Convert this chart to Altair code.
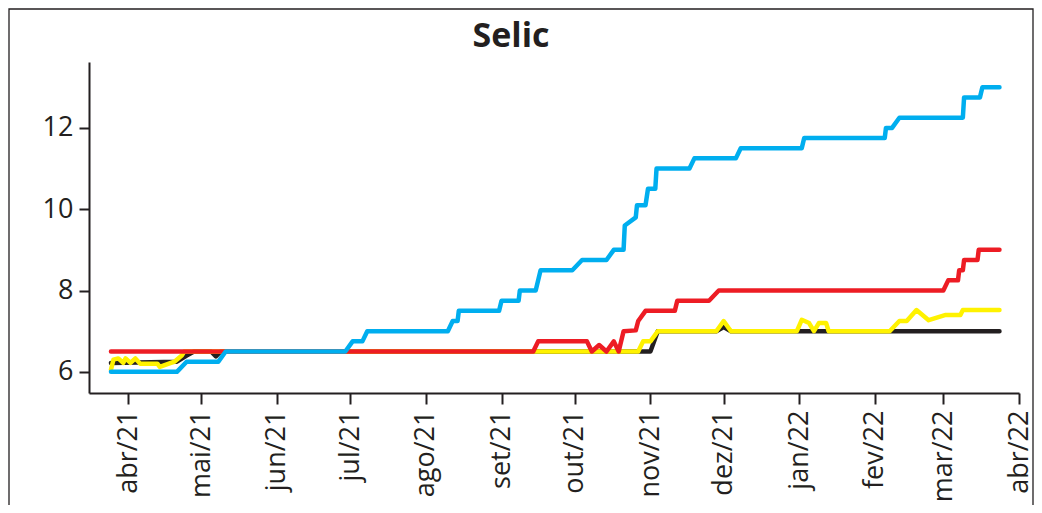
import json
import altair as alt
import pandas as pd

# ---------------- data ----------------
month_labels = ["abr/21", "mai/21", "jun/21", "jul/21", "ago/21", "set/21", "out/21",
                "nov/21", "dez/21", "jan/22", "fev/22", "mar/22", "abr/22"]
y_ticks = [6, 8, 10, 12]

blue_dates = ["2021-03-25", "2021-04-21", "2021-04-25", "2021-05-08", "2021-05-11", "2021-06-29",
              "2021-07-02", "2021-07-06", "2021-07-08", "2021-08-10", "2021-08-12", "2021-08-14",
              "2021-08-14T12:00", "2021-08-31", "2021-09-01", "2021-09-08", "2021-09-08T12:00",
              "2021-09-15", "2021-09-17", "2021-09-30", "2021-10-04", "2021-10-14", "2021-10-17",
              "2021-10-21", "2021-10-21T12:00", "2021-10-26", "2021-10-26T12:00", "2021-10-30",
              "2021-10-31", "2021-11-03", "2021-11-03T12:00", "2021-11-17", "2021-11-19",
              "2021-12-06", "2021-12-08", "2022-01-02", "2022-01-03", "2022-02-05",
              "2022-02-05T12:00", "2022-02-08", "2022-02-11", "2022-03-09", "2022-03-09T12:00",
              "2022-03-16", "2022-03-17", "2022-03-24"]
blue_vals = [6.0, 6.0, 6.25, 6.25, 6.5, 6.5,
             6.75, 6.75, 7.0, 7.0, 7.25, 7.25,
             7.5, 7.5, 7.75, 7.75, 8.0,
             8.0, 8.5, 8.5, 8.75, 8.75, 9.0,
             9.0, 9.6, 9.8, 10.1, 10.1,
             10.5, 10.5, 11.0, 11.0, 11.25,
             11.25, 11.5, 11.5, 11.75, 11.75,
             12.0, 12.0, 12.25, 12.25, 12.75,
             12.75, 13.0, 13.0]

red_dates = ["2021-03-25", "2021-09-14", "2021-09-16", "2021-10-06", "2021-10-08", "2021-10-11",
             "2021-10-14", "2021-10-17", "2021-10-19", "2021-10-21", "2021-10-26", "2021-10-27",
             "2021-10-30", "2021-11-11", "2021-11-12", "2021-11-25", "2021-11-29", "2022-03-01",
             "2022-03-03", "2022-03-07", "2022-03-07T12:00", "2022-03-09", "2022-03-09T12:00",
             "2022-03-15", "2022-03-15T12:00", "2022-03-24"]
red_vals = [6.5, 6.5, 6.75, 6.75, 6.5, 6.66,
            6.5, 6.75, 6.5, 7.0, 7.02, 7.25,
            7.5, 7.5, 7.75, 7.75, 8.0, 8.0,
            8.25, 8.25, 8.5, 8.5, 8.75,
            8.75, 9.0, 9.0]

yellow_dates = ["2021-03-25", "2021-03-26", "2021-03-28", "2021-03-30", "2021-03-31", "2021-04-02",
                "2021-04-04", "2021-04-06", "2021-04-13", "2021-04-14", "2021-04-20", "2021-04-23",
                "2021-04-24", "2021-10-27", "2021-10-29", "2021-11-01", "2021-11-04", "2021-11-28",
                "2021-12-01", "2021-12-04", "2021-12-31", "2022-01-02", "2022-01-05", "2022-01-07",
                "2022-01-09", "2022-01-12", "2022-01-13", "2022-02-07", "2022-02-11", "2022-02-14",
                "2022-02-18", "2022-02-23", "2022-03-02", "2022-03-08", "2022-03-09", "2022-03-24"]
yellow_vals = [6.05, 6.3, 6.33, 6.22, 6.33, 6.22,
               6.33, 6.2, 6.2, 6.12, 6.25, 6.4,
               6.5, 6.5, 6.75, 6.75, 7.0, 7.0,
               7.25, 7.0, 7.0, 7.28, 7.2, 7.0,
               7.2, 7.2, 7.0, 7.0, 7.25, 7.25,
               7.52, 7.27, 7.4, 7.4, 7.52, 7.52]

black_dates = ["2021-03-25", "2021-04-21", "2021-04-25", "2021-04-28", "2021-05-05", "2021-05-07",
               "2021-05-09", "2021-11-01", "2021-11-04", "2021-11-28", "2021-12-01", "2021-12-04",
               "2022-03-24"]
black_vals = [6.22, 6.25, 6.4, 6.5, 6.5, 6.38,
              6.5, 6.5, 7.0, 7.0, 7.1, 7.0,
              7.0]

# ---------------- styling ----------------
INK = "#231F20"
FONT = "Open Sans"
W, H = 930, 331


def to_frame(dates, vals):
    return pd.DataFrame({"date": [d if "T" in d else d + "T00:00" for d in dates], "value": vals})


x_scale = alt.Scale(domain=[alt.DateTime(year=2021, month=3, date=16),
                            alt.DateTime(year=2022, month=4, date=1)], nice=False)
y_scale = alt.Scale(domain=[5.48, 13.62], nice=False, zero=False)

tick_dates = [alt.DateTime(year=2021 + (3 + i) // 12, month=(3 + i) % 12 + 1, date=1)
              for i in range(len(month_labels))]
label_expr = (json.dumps(month_labels)
              + "[(year(datum.value) - 2021) * 12 + month(datum.value) - 3]")

x_axis = alt.Axis(values=tick_dates, labelExpr=label_expr, labelAngle=-90, title=None,
                  grid=False, tickSize=11, labelPadding=6)
y_axis = alt.Axis(values=y_ticks, title=None, grid=False, tickSize=10, labelPadding=6)


def series_layer(dates, vals, color):
    return alt.Chart(to_frame(dates, vals)).mark_line(
        color=color, strokeWidth=4.5, strokeJoin="round", strokeCap="round"
    ).encode(
        x=alt.X("date:T", scale=x_scale, axis=x_axis),
        y=alt.Y("value:Q", scale=y_scale, axis=y_axis),
    )


frame_layer = alt.Chart(alt.Data(values=[{"k": 1}])).mark_rect(
    fillOpacity=0, stroke=INK, strokeWidth=1.3
).encode(x=alt.value(-80), x2=alt.value(944), y=alt.value(-53), y2=alt.value(470))

title_layer = alt.Chart(alt.Data(values=[{"t": "Selic"}])).mark_text(
    font=FONT, fontSize=34, fontWeight="bold", color=INK, align="center", baseline="alphabetic"
).encode(text="t:N", x=alt.value(422), y=alt.value(-15))

chart = alt.layer(
    frame_layer,
    series_layer(black_dates, black_vals, INK),
    series_layer(yellow_dates, yellow_vals, "#FFF200"),
    series_layer(red_dates, red_vals, "#ED1C24"),
    series_layer(blue_dates, blue_vals, "#00AEEF"),
    title_layer,
).properties(
    width=W, height=H,
    padding={"left": 81, "top": 54, "right": 15, "bottom": 112},
    autosize=alt.AutoSizeParams(type="none"),
    background="white",
).configure_view(
    stroke=None
).configure_axis(
    labelFont=FONT, labelFontSize=27, labelColor=INK,
    domainColor=INK, domainWidth=2, tickColor=INK, tickWidth=2,
)

chart.save("out.html", embed_options={"renderer": "svg", "actions": False})
